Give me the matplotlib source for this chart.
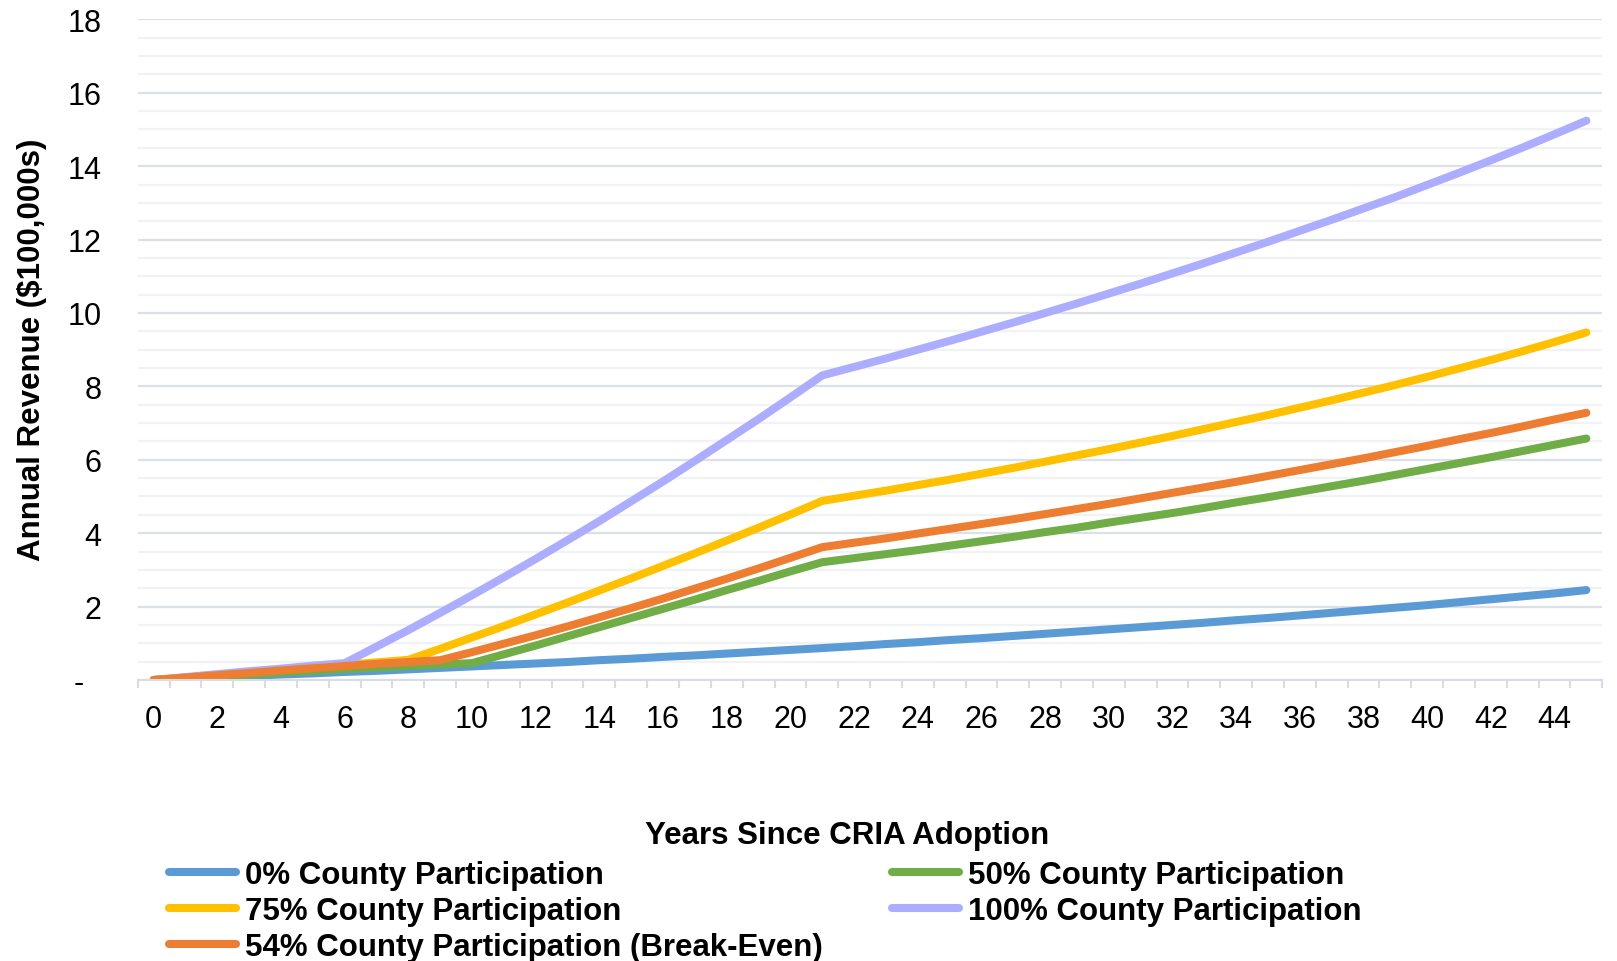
import numpy as np
import matplotlib
matplotlib.use("Agg")
import matplotlib.pyplot as plt
from matplotlib.ticker import MultipleLocator, FixedLocator

plt.rcParams['font.family'] = ['Liberation Sans', 'DejaVu Sans']

years = list(range(46))

# annual revenue in $100,000s
part_0 = [0.00, 0.04, 0.08, 0.11, 0.15, 0.18, 0.22, 0.25, 0.29, 0.33,
          0.37, 0.41, 0.45, 0.49, 0.54, 0.58, 0.63, 0.67, 0.72, 0.77,
          0.82, 0.87, 0.92, 0.98, 1.03, 1.09, 1.14, 1.20, 1.26, 1.32,
          1.38, 1.44, 1.50, 1.56, 1.63, 1.69, 1.76, 1.83, 1.90, 1.97,
          2.04, 2.12, 2.20, 2.28, 2.36, 2.45]
part_50 = [0.00, 0.05, 0.10, 0.15, 0.20, 0.25, 0.30, 0.34, 0.38, 0.42,
           0.46, 0.70, 0.94, 1.19, 1.44, 1.69, 1.94, 2.19, 2.45, 2.70,
           2.96, 3.21, 3.32, 3.43, 3.54, 3.66, 3.78, 3.90, 4.03, 4.15,
           4.29, 4.42, 4.55, 4.69, 4.84, 4.98, 5.13, 5.28, 5.43, 5.59,
           5.75, 5.91, 6.07, 6.24, 6.41, 6.58]
part_75 = [0.00, 0.07, 0.14, 0.21, 0.28, 0.35, 0.41, 0.48, 0.55, 0.85,
           1.16, 1.47, 1.79, 2.11, 2.44, 2.77, 3.11, 3.45, 3.80, 4.15,
           4.51, 4.88, 5.02, 5.16, 5.31, 5.46, 5.62, 5.78, 5.95, 6.12,
           6.29, 6.47, 6.65, 6.84, 7.03, 7.22, 7.42, 7.62, 7.83, 8.04,
           8.26, 8.49, 8.72, 8.96, 9.21, 9.47]
part_100 = [0.00, 0.08, 0.16, 0.24, 0.31, 0.39, 0.46, 0.91, 1.36, 1.83,
            2.31, 2.80, 3.30, 3.81, 4.33, 4.87, 5.41, 5.97, 6.54, 7.11,
            7.70, 8.30, 8.53, 8.76, 9.00, 9.24, 9.49, 9.74, 10.00, 10.26,
            10.53, 10.80, 11.08, 11.36, 11.65, 11.94, 12.24, 12.54, 12.85, 13.16,
            13.49, 13.82, 14.16, 14.51, 14.87, 15.24]
part_54 = [0.00, 0.065, 0.13, 0.19, 0.26, 0.32, 0.38, 0.44, 0.49, 0.54,
           0.76, 0.99, 1.22, 1.46, 1.71, 1.96, 2.22, 2.49, 2.76, 3.04,
           3.33, 3.62, 3.74, 3.86, 3.99, 4.12, 4.25, 4.38, 4.52, 4.66,
           4.80, 4.95, 5.10, 5.25, 5.40, 5.56, 5.72, 5.88, 6.04, 6.21,
           6.38, 6.56, 6.73, 6.91, 7.10, 7.28]

series = [
    ("0% County Participation", part_0, "#5B9BD5"),
    ("50% County Participation", part_50, "#70AD47"),
    ("75% County Participation", part_75, "#FFC000"),
    ("100% County Participation", part_100, "#ADADFF"),
    ("54% County Participation (Break-Even)", part_54, "#ED7D31"),
]

fig = plt.figure(figsize=(16.17, 9.62), dpi=100)
ax = fig.add_axes([0.0852, 0.2921, 0.9057, 0.6867])

lines = {}
for label, vals, color in series:
    ln, = ax.plot(years, vals, color=color, lw=5.8, label=label,
                  solid_capstyle='round', solid_joinstyle='round')
    lines[label] = ln

ax.set_xlim(-0.5, 45.5)
ax.set_ylim(0, 18)

# y axis
ax.yaxis.set_minor_locator(MultipleLocator(0.5))
ax.set_yticks(range(0, 19, 2))
ax.set_yticklabels(["-  "] + [str(v) for v in range(2, 19, 2)])
ax.tick_params(axis='y', which='both', length=0, pad=26, labelsize=22)
ax.grid(axis='y', which='major', color='#DCE1E8', lw=1.6)
ax.grid(axis='y', which='minor', color='#F1F2F4', lw=1.6)

# x axis: labels on even years, tick marks between categories
ax.set_xticks(range(0, 45, 2))
ax.xaxis.set_minor_locator(FixedLocator(np.arange(-0.5, 46, 1)))
ax.tick_params(axis='x', which='major', length=0, pad=17, labelsize=22)
ax.tick_params(axis='x', which='minor', length=6, width=1.5, color='#D9DDE3')
ax.set_axisbelow(True)

for side in ['top', 'right', 'left']:
    ax.spines[side].set_visible(False)
ax.spines['bottom'].set_color('#D9DDE3')
ax.spines['bottom'].set_linewidth(1.5)

fig.text(32 / 1617, 1 - 350 / 962, "Annual Revenue ($100,000s)", rotation=90,
         ha='center', va='center', fontsize=22.5, fontweight='bold')
fig.text(847 / 1617, 1 - 836 / 962, "Years Since CRIA Adoption",
         ha='center', va='center', fontsize=22.5, fontweight='bold')

order = ["0% County Participation", "75% County Participation",
         "54% County Participation (Break-Even)",
         "50% County Participation", "100% County Participation"]
fig.legend([lines[k] for k in order], order, ncol=2, loc='upper left',
           bbox_to_anchor=(169 / 1617, 1 - 861 / 962), frameon=False,
           prop={'size': 22.5, 'weight': 'bold'}, handlelength=2.15,
           handletextpad=0.29, columnspacing=2.2, labelspacing=0.19,
           borderpad=0, borderaxespad=0)

fig.savefig("out.png", dpi=100)
